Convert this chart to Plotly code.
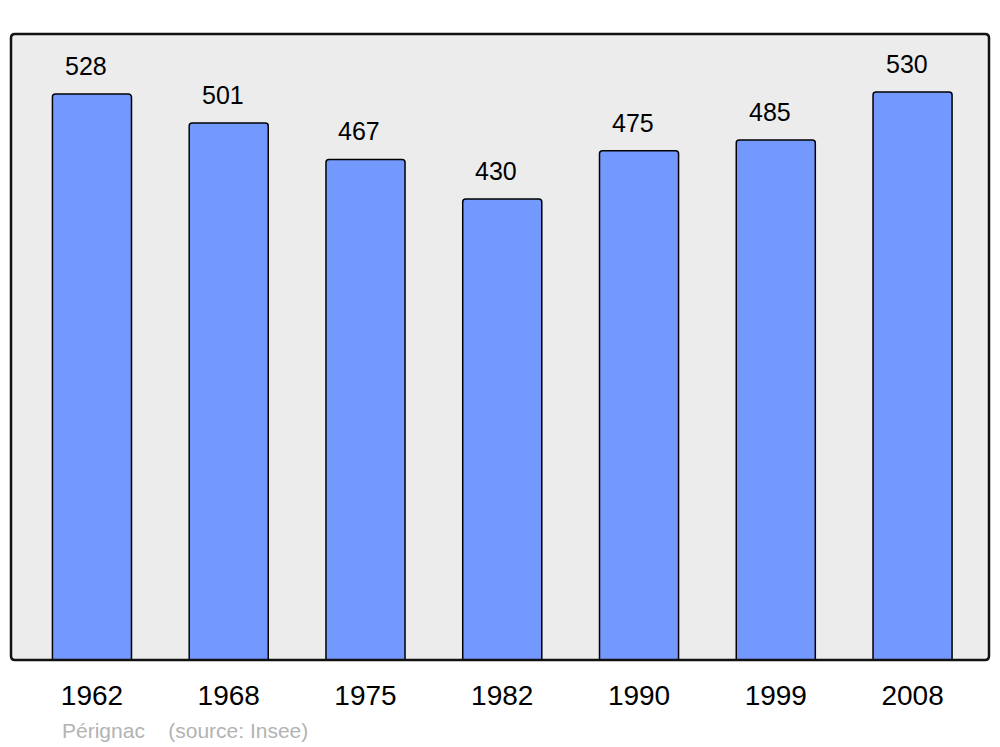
import plotly.graph_objects as go

years = ["1962", "1968", "1975", "1982", "1990", "1999", "2008"]
population = [528, 501, 467, 430, 475, 485, 530]
commune = "Pérignac"
source = "(source: Insee)"

# page offset of the figure inside the browser (default body margin)
OFF = 8
W, H = 1000 - OFF, 747 - OFF
L, R, T, B = 11 - OFF, 11, 34 - OFF, 87

fig = go.Figure()
fig.add_trace(go.Bar(
    x=list(range(len(years))), y=population,
    width=0.578,
    marker=dict(color="#7399ff", line=dict(color="#000000", width=1.5)),
    hoverinfo="skip",
))

for i, v in enumerate(population):
    fig.add_annotation(x=i, y=v, text=str(v), showarrow=False,
                       yanchor="bottom", yshift=12, xshift=-6,
                       font=dict(family="Liberation Sans, Arial, sans-serif", size=25, color="#000"))

pw, ph = W - L - R, H - T - B
fig.add_annotation(xref="paper", yref="paper", x=(60 - 11) / pw, y=-(730 - 660) / ph,
                   xanchor="left", yanchor="middle", showarrow=False,
                   text=commune + "\u00a0\u00a0\u00a0\u00a0" + source,
                   font=dict(family="Liberation Sans, Arial, sans-serif", size=21, color="#b3b3b3"))

# rounded frame
rx, ry = 4 / pw, 4 / ph
path = (f"M {rx},0 L {1-rx},0 Q 1,0 1,{ry} L 1,{1-ry} Q 1,1 {1-rx},1 "
        f"L {rx},1 Q 0,1 0,{1-ry} L 0,{ry} Q 0,0 {rx},0 Z")
fig.add_shape(type="path", xref="paper", yref="paper", path=path,
              line=dict(color="#111111", width=2.5), layer="above")

fig.update_layout(
    width=W, height=H,
    margin=dict(l=L, r=R, t=T, b=B),
    paper_bgcolor="#ffffff", plot_bgcolor="#ececec",
    barcornerradius=3,
    showlegend=False,
    xaxis=dict(range=[-0.592, 6.559], tickmode="array", tickvals=list(range(len(years))),
               ticktext=years, showgrid=False, zeroline=False, showline=False,
               ticks="", ticklabelstandoff=16,
               tickfont=dict(family="Liberation Sans, Arial, sans-serif", size=28, color="#000")),
    yaxis=dict(range=[0, 584], showgrid=False, zeroline=False, showticklabels=False, showline=False),
)

fig.write_html("out.html")
